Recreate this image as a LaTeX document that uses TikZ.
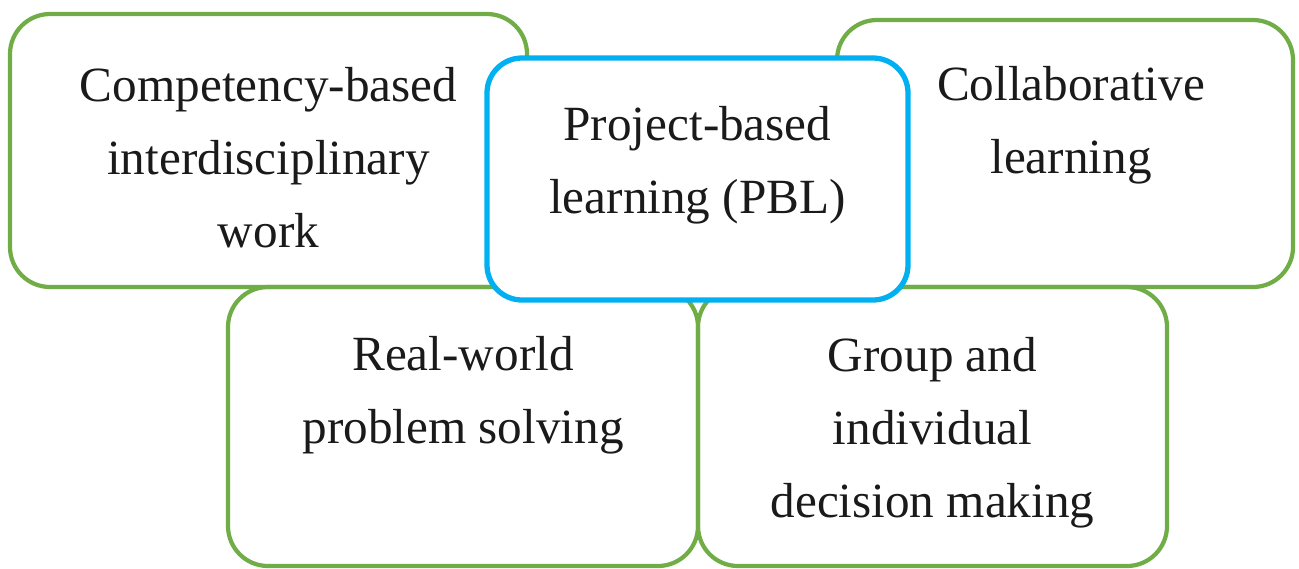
\documentclass[tikz,border=0pt]{standalone}
\usepackage{fontspec}
\setmainfont{Liberation Serif}
\usepackage{tikz}
\usetikzlibrary{positioning,calc}
\definecolor{leaf}{HTML}{70AD47}
\definecolor{sky}{HTML}{00B0F0}
\definecolor{ink}{HTML}{1A1A1A}

\begin{document}
\begin{tikzpicture}[font=\fontsize{14}{20.8}\selectfont,
  greenblk/.style={draw=leaf,line width=1.2pt,rounded corners=0.4cm,inner sep=0pt},
  blueblk/.style={draw=sky,fill=white,line width=1.5pt,rounded corners=0.35cm,inner sep=0pt},
  txt/.style={align=center,inner sep=0pt,text=ink,anchor=base}]
\useasboundingbox (0,0) rectangle (12.99,-5.68);
% four outer blocks
\node[greenblk,minimum width=5.17cm,minimum height=2.73cm] (compet) at (2.685,-1.505) {};
\node[greenblk,minimum width=4.56cm,minimum height=2.67cm] (collab) at (10.65,-1.535) {};
\node[greenblk,minimum width=4.70cm,minimum height=2.79cm] (real) at (4.63,-4.265) {};
\node[greenblk,minimum width=4.69cm,minimum height=2.79cm] (group) at (9.325,-4.265) {};
% central block on top
\node[blueblk,minimum width=4.21cm,minimum height=2.42cm] (pbl) at (6.975,-1.79) {};
% labels (base = baseline of the last line, lines 0.734cm apart)
\node[txt] (compettxt) at ($(compet.north)+(0,-2.36)$) {Competency-based\\ interdisciplinary\\ work};
\node[txt] (collabtxt) at ($(collab.north)+(0.06,-1.56)$) {Collaborative\\ learning};
\node[txt] (pbltxt) at ($(pbl.north)+(0,-1.58)$) {Project-based\\ learning (PBL)};
\node[txt] (realtxt) at ($(real.north)+(0,-1.59)$) {Real-world\\ problem solving};
\node[txt] (grouptxt) at ($(group.north)+(0,-2.33)$) {Group and\\ individual\\ decision making};
\end{tikzpicture}
\end{document}
